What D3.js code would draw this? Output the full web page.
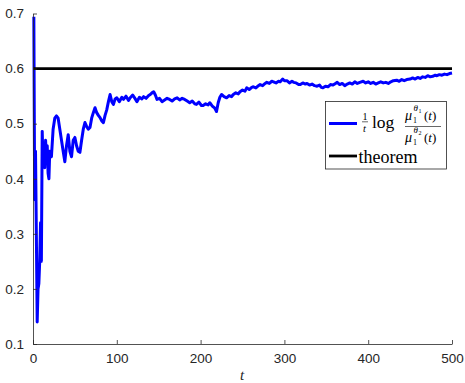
<!DOCTYPE html>
<html>
<head>
<meta charset="utf-8">
<script src="https://cdn.jsdelivr.net/npm/d3@7"></script>
<style>
  body { margin: 0; background: #fff; }
  svg { display: block; }
</style>
</head>
<body>
<script>
// time steps t and the empirical rate (1/t) log ratio
var tValues = [1,2,3,4,5,6,7,8,9,10,11,12,13,14,15,16,17,18,19,20,22,24,26,28,30,32,34,36,38,40,
  42,44,46,48,50,52,54,56,58,60,62,64,66,68,70,72,74,76,78,80,82,84,86,88,90,92,94,96,98,100,
  103,106,108,111,114,116,119,122,124,127,130,132,135,138,140,142,144,146,148,151,154,157,160,163,166,169,172,175,178,181,
  184,187,190,193,195,198,201,203,206,209,211,214,217,219,221,223,225,228,231,234,237,239,242,245,247,250,253,255,258,261,
  263,266,269,271,274,277,279,282,285,287,290,293,295,298,300,303,306,309,311,314,317,319,322,325,327,330,333,336,339,342,
  344,346,349,352,355,358,361,363,366,369,372,375,378,381,384,387,390,394,397,400,403,406,409,412,415,418,421,424,427,430,
  434,437,440,443,446,450,453,456,459,462,465,468,471,474,477,480,482,485,488,491,494,497,500];
var rateValues = [0.694,0.362,0.45,0.30,0.14,0.20,0.21,0.25,0.32,0.25,0.486,0.43,0.46,0.42,0.47,0.44,0.46,0.41,0.40,0.45,0.44,0.49,0.51,0.514,0.51,0.49,0.47,0.45,0.431,0.46,
  0.48,0.45,0.44,0.47,0.475,0.46,0.45,0.448,0.47,0.49,0.502,0.495,0.49,0.493,0.51,0.52,0.529,0.52,0.515,0.511,0.505,0.502,0.515,0.525,0.54,0.553,0.54,0.535,0.545,0.547,
  0.54,0.548,0.544,0.55,0.542,0.547,0.552,0.545,0.54,0.548,0.545,0.549,0.546,0.551,0.553,0.556,0.558,0.552,0.544,0.546,0.54,0.543,0.546,0.544,0.541,0.545,0.547,0.543,0.546,0.544,
  0.541,0.538,0.541,0.536,0.535,0.539,0.533,0.533,0.536,0.534,0.538,0.532,0.528,0.522,0.538,0.548,0.553,0.549,0.547,0.551,0.549,0.553,0.556,0.554,0.558,0.561,0.559,0.565,0.562,0.566,
  0.567,0.565,0.569,0.571,0.569,0.573,0.575,0.573,0.577,0.576,0.574,0.577,0.576,0.581,0.578,0.578,0.574,0.577,0.575,0.574,0.571,0.571,0.574,0.572,0.573,0.57,0.572,0.569,0.568,0.57,
  0.566,0.565,0.568,0.567,0.571,0.57,0.573,0.575,0.571,0.573,0.569,0.572,0.574,0.572,0.576,0.573,0.575,0.577,0.574,0.576,0.573,0.575,0.572,0.574,0.576,0.574,0.575,0.573,0.576,0.578,
  0.579,0.577,0.58,0.578,0.58,0.581,0.583,0.581,0.584,0.582,0.585,0.584,0.587,0.585,0.586,0.588,0.587,0.589,0.588,0.59,0.589,0.591,0.592];
var theoremValue = 0.6;
var xTicks = [0, 100, 200, 300, 400, 500];
var yTicks = [0.1, 0.2, 0.3, 0.4, 0.5, 0.6, 0.7];

var rateData = tValues.map(function(t, i) { return {t: t, v: rateValues[i]}; });

var W = 465, H = 383;
var svg = d3.select("body").append("svg").attr("width", W).attr("height", H);
svg.append("rect").attr("width", W).attr("height", H).attr("fill", "#fff");

var x = d3.scaleLinear().domain([0, 500]).range([33, 452]);
var y = d3.scaleLinear().domain([0.1, 0.7]).range([344, 13.5]);
var axisColor = "#262626";
var serif = "'Liberation Serif', 'DejaVu Serif', serif";

// data lines
var line = d3.line().x(function(d) { return x(d.t); }).y(function(d) { return y(d.v); });
svg.append("path")
  .attr("fill", "none").attr("stroke", "#0000ff").attr("stroke-width", 3)
  .attr("stroke-linejoin", "round")
  .attr("d", line(rateData));

svg.append("path")
  .attr("fill", "none").attr("stroke", "#000").attr("stroke-width", 2.8)
  .attr("d", line([{t: 0, v: theoremValue}, {t: 500, v: theoremValue}]));

// axes: inward ticks, no box
var xAxis = d3.axisBottom(x).tickValues(xTicks).tickSizeInner(-4).tickSizeOuter(0).tickPadding(9)
  .tickFormat(d3.format("d"));
var yAxis = d3.axisLeft(y).tickValues(yTicks).tickSizeInner(-4).tickSizeOuter(0).tickPadding(9)
  .tickFormat(d3.format(".1f"));

function styleAxis(g) {
  g.select(".domain").attr("stroke", axisColor).attr("stroke-width", 0.8);
  g.selectAll(".tick line").attr("stroke", axisColor).attr("stroke-width", 0.8);
  g.selectAll(".tick text").attr("fill", axisColor)
    .style("font-family", "'Liberation Sans', Arial, sans-serif").style("font-size", "13.5px");
}
svg.append("g").attr("transform", "translate(0," + y(0.1) + ")").call(xAxis).call(styleAxis);
svg.append("g").attr("transform", "translate(" + x(0) + ",0)").call(yAxis).call(styleAxis);

svg.append("text").attr("x", 242).attr("y", 380)
  .attr("text-anchor", "middle")
  .style("font-family", serif).style("font-style", "italic").style("font-size", "15px")
  .attr("fill", axisColor).text("t");

// legend
var lg = svg.append("g");
lg.append("rect").attr("x", 325.5).attr("y", 101.5).attr("width", 121).attr("height", 67.5)
  .attr("fill", "#fff").attr("stroke", axisColor).attr("stroke-width", 0.8);
lg.append("line").attr("x1", 329).attr("x2", 357).attr("y1", 123.5).attr("y2", 123.5)
  .attr("stroke", "#0000ff").attr("stroke-width", 3);
lg.append("line").attr("x1", 329).attr("x2", 357).attr("y1", 156).attr("y2", 156)
  .attr("stroke", "#000").attr("stroke-width", 2.8);

function tx(xp, yp, size, str, italic) {
  return lg.append("text").attr("x", xp).attr("y", yp)
    .style("font-family", serif)
    .style("font-size", size + "px")
    .style("font-style", italic ? "italic" : "normal")
    .attr("fill", "#000").text(str);
}
// 1/t
tx(362.5, 119.5, 10, "1", false);
lg.append("line").attr("x1", 362).attr("x2", 368).attr("y1", 121.8).attr("y2", 121.8)
  .attr("stroke", "#000").attr("stroke-width", 0.6);
tx(363, 131.5, 10.5, "t", true);
tx(372, 128, 17.5, "log", false);
// fraction mu_1^{theta_1}(t) / mu_1^{theta_2}(t)
lg.append("line").attr("x1", 405).attr("x2", 441).attr("y1", 126.5).attr("y2", 126.5)
  .attr("stroke", "#000").attr("stroke-width", 0.6);
[[0, "1"], [22, "2"]].forEach(function(r) {
  var b = 120 + r[0];
  tx(405, b, 14, "\u03bc", true);
  tx(413, b + 3, 8, "1", false);
  tx(413.5, b - 9, 9, "\u03b8", true);
  tx(418.5, b - 7, 6, r[1], false);
  var p = tx(424, b, 13, "(", false);
  p.append("tspan").style("font-style", "italic").text("t");
  p.append("tspan").text(")");
});
tx(358.5, 162.5, 18, "theorem", false);
</script>
</body>
</html>
